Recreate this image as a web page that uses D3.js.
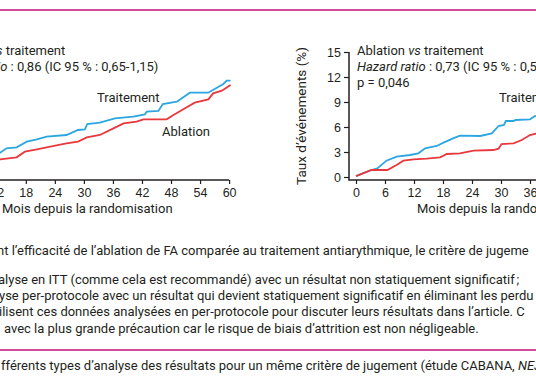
<!DOCTYPE html>
<html lang="fr">
<head>
<meta charset="UTF-8">
<title>Ablation vs traitement</title>
<script src="https://d3js.org/d3.v7.min.js"></script>
<style>
  body { margin: 0; background: #fff; }
  svg { display: block; font-family: Roboto, "DejaVu Sans", sans-serif; }
</style>
</head>
<body>
<script>

// data: [month, % of events]
var xTicks = [0, 6, 12, 18, 24, 30, 36, 42, 48, 54, 60];
var yTicks = [0, 3, 6, 9, 12, 15];

var leftTreatment = [[12, 2.8], [12.7, 2.92], [14, 3.44], [16.1, 3.56], [18.2, 4.24], [20.3, 4.52], [22.3, 4.84],
    [26.4, 5.04], [28.8, 5.64], [30.2, 5.72], [30.7, 6.36], [33.3, 6.52], [36.4, 7.04], [40.2, 7.24],
    [42.6, 7.52], [43, 7.84], [45.4, 7.92], [46.3, 8.76], [49.2, 9.04], [51.9, 10.12], [55.7, 10.12],
    [58.8, 11.16], [59.5, 11.56], [60.3, 11.56]];
var leftAblation = [[12, 2.05], [12.7, 2.12], [16.1, 2.36], [17.8, 3.04], [20.3, 3.32], [22.3, 3.56], [26.4, 4.04],
    [28.8, 4.24], [30.6, 4.76], [33.3, 5.04], [36.1, 5.84], [38.2, 6.44], [40.9, 6.64], [42.3, 6.92],
    [47.1, 6.92], [48.5, 7.44], [50.9, 8.24], [52.9, 8.92], [55.7, 9.32], [56.7, 10.04], [58.5, 10.36],
    [60.3, 11.04]];

var rightTreatment = [[0, 0.1], [3.2, 0.84], [4.4, 1.04], [6.3, 1.96], [8.4, 2.44], [11.2, 2.64], [12.9, 2.84],
    [14.3, 3.44], [16.7, 3.72], [18.1, 4.12], [20.1, 4.64], [21.5, 4.96], [25.7, 4.92], [28.1, 5.24],
    [29.5, 6.12], [30.6, 6.24], [31, 6.72], [32.6, 6.72], [33, 6.84], [36, 6.92], [37, 7.32], [38, 7.4]];
var rightAblation = [[0, 0.1], [3.2, 0.84], [6.5, 0.84], [8.4, 1.44], [9.8, 1.96], [11.9, 2.12], [14.6, 2.2],
    [17.4, 2.36], [18.8, 2.76], [21.5, 2.84], [24.3, 3.16], [28.4, 3.24], [29.5, 3.4], [30.1, 3.96],
    [32.6, 4.04], [34.3, 4.44], [36, 5.04], [37.2, 5.2], [38, 5.3]];

var bodyLines = [
    "nt l\u2019efficacité de l\u2019ablation de FA comparée au traitement antiarythmique, le critère de jugeme",
    "alyse en ITT (comme cela est recommandé) avec un résultat non statiquement significatif\u202f;",
    "yse per-protocole avec un résultat qui devient statiquement significatif en éliminant les perdu",
    "ilisent ces données analysées en per-protocole pour discuter leurs résultats dans l\u2019article. C",
    "avec la plus grande précaution car le risque de biais d\u2019attrition est non négligeable."
];

var W = 536, H = 386;
var blue = '#2ba6e1', red = '#e8383d', ink = '#231f20', magenta = '#cf4c9c';
var fs = 13;

var svg = d3.select('body').append('svg')
    .attr('width', W)
    .attr('height', H);

// magenta rules
svg.append('line').attr('x1', 0).attr('x2', W).attr('y1', 10).attr('y2', 10)
    .attr('stroke', magenta).attr('stroke-width', 2);
svg.append('line').attr('x1', 0).attr('x2', W).attr('y1', 350).attr('y2', 350)
    .attr('stroke', magenta).attr('stroke-width', 2);

var y = d3.scaleLinear().domain([0, 15]).range([177, 52]);
var xLeft = d3.scaleLinear().domain([0, 60]).range([-61.3, 229.1]);
var xRight = d3.scaleLinear().domain([0, 36]).range([356, 530]);

function drawXAxis(x, ticks, x0, x1) {
    var g = svg.append('g')
        .attr('transform', 'translate(0,180)')
        .call(d3.axisBottom(x).tickValues(ticks).tickSize(4).tickPadding(4));
    g.select('.domain').remove();
    g.selectAll('line').attr('stroke', ink).attr('stroke-width', 1.2);
    g.selectAll('text').attr('font-size', 12.5).attr('fill', ink).attr('font-family', null);
    svg.append('line').attr('x1', x0).attr('x2', x1).attr('y1', 180).attr('y2', 180)
        .attr('stroke', ink).attr('stroke-width', 1.5);
}

var line = function (x) {
    return d3.line()
        .x(function (d) { return x(d[0]); })
        .y(function (d) { return y(d[1]); });
};

function label(x, yy, txt) {
    return svg.append('text').attr('x', x).attr('y', yy)
        .attr('font-size', fs).attr('fill', ink).text(txt);
}

// ---- left panel (cut off on the left)
drawXAxis(xLeft, xTicks.filter(function (d) { return d >= 12; }), -5, xLeft(60));

svg.append('path').datum(leftTreatment).attr('d', line(xLeft))
    .attr('fill', 'none').attr('stroke', blue).attr('stroke-width', 1.8);
svg.append('path').datum(leftAblation).attr('d', line(xLeft))
    .attr('fill', 'none').attr('stroke', red).attr('stroke-width', 1.8);

var leftTitle = label(xLeft(0), 55, null);
leftTitle.append('tspan').text('Ablation ');
leftTitle.append('tspan').attr('font-style', 'italic').text('vs');
leftTitle.append('tspan').text(' traitement');

var leftHr = label(xLeft(0), 71, null);
leftHr.append('tspan').attr('font-style', 'italic').text('Hazard ratio');
leftHr.append('tspan').text(' : 0,86 (IC 95 % : 0,65-1,15)');

label(97, 102, 'Traitement');
label(162, 136, 'Ablation');
label(2, 213, 'Mois depuis la randomisation');

// ---- right panel (cut off on the right)
drawXAxis(xRight, xTicks, 349, W + 5);

var gy = svg.append('g')
    .attr('transform', 'translate(349,0)')
    .call(d3.axisLeft(y).tickValues(yTicks).tickSize(5).tickPadding(3));
gy.select('.domain').remove();
gy.selectAll('line').attr('stroke', ink).attr('stroke-width', 1.2);
gy.selectAll('text').attr('font-size', 12.5).attr('fill', ink).attr('font-family', null);
svg.append('line').attr('x1', 349).attr('x2', 349).attr('y1', y(15)).attr('y2', 180.7)
    .attr('stroke', ink).attr('stroke-width', 1.5);

svg.append('text')
    .attr('transform', 'translate(306,116) rotate(-90)')
    .attr('text-anchor', 'middle').attr('font-size', 13.5).attr('fill', ink)
    .text('Taux d\u2019événements (%)');

svg.append('path').datum(rightTreatment).attr('d', line(xRight))
    .attr('fill', 'none').attr('stroke', blue).attr('stroke-width', 1.8);
svg.append('path').datum(rightAblation).attr('d', line(xRight))
    .attr('fill', 'none').attr('stroke', red).attr('stroke-width', 1.8);

var rightTitle = label(357, 55, null);
rightTitle.append('tspan').text('Ablation ');
rightTitle.append('tspan').attr('font-style', 'italic').text('vs');
rightTitle.append('tspan').text(' traitement');

var rightHr = label(357, 71, null);
rightHr.append('tspan').attr('font-style', 'italic').text('Hazard ratio');
rightHr.append('tspan').text(' : 0,73 (IC 95 % : 0,54-0,99)');

label(357, 87, 'p = 0,046');
label(499, 102, 'Traitement');
label(417, 213, 'Mois depuis la randomisation');

// ---- caption text
var bodyX = [-3, -2, -1, -1, 4];
var bodyY = [255, 284, 300, 316, 333];
svg.selectAll('.body').data(bodyLines).enter().append('text')
    .attr('class', 'body')
    .attr('x', function (d, i) { return bodyX[i]; })
    .attr('y', function (d, i) { return bodyY[i]; })
    .attr('font-size', fs).attr('fill', ink)
    .text(function (d) { return d; });

var legend = label(1, 370, null);
legend.append('tspan').text('fférents types d\u2019analyse des résultats pour un même critère de jugement (étude CABANA, ');
legend.append('tspan').attr('font-style', 'italic').text('NEJM');

</script>
</body>
</html>
